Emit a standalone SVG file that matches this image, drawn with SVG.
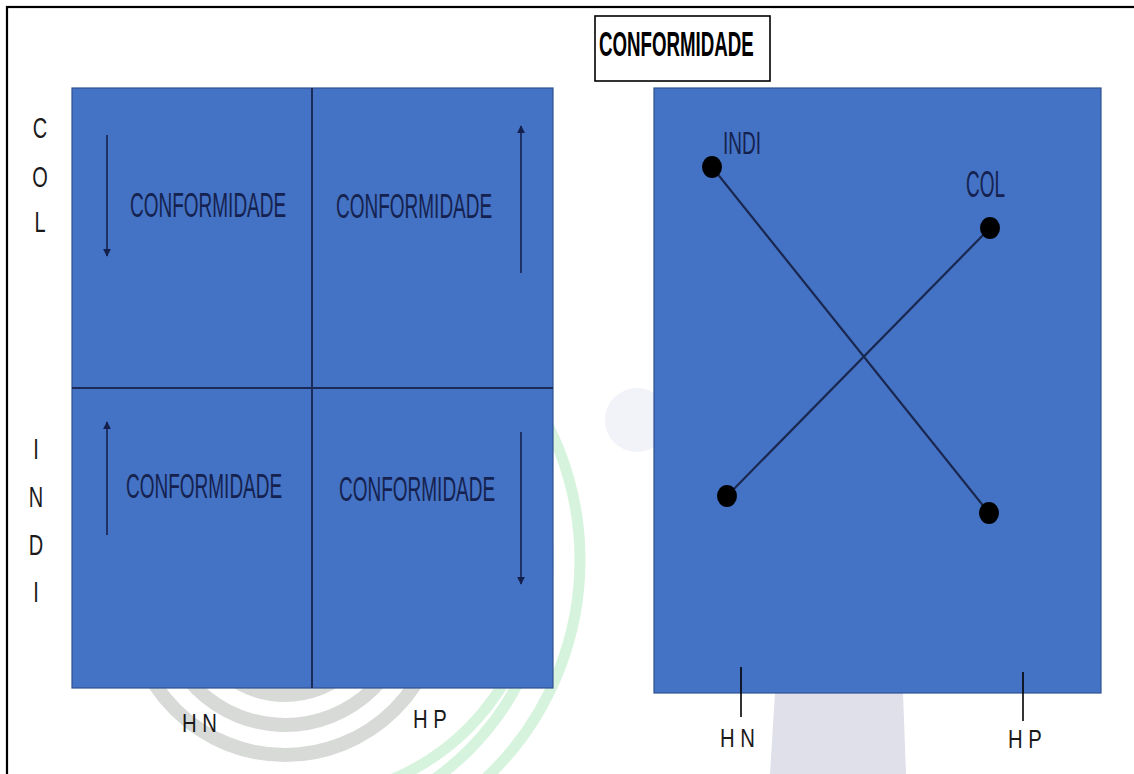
<svg xmlns="http://www.w3.org/2000/svg" width="1134" height="774" viewBox="0 0 1134 774">
<style>
.panel{fill:#4472C4;stroke:#2F528F;stroke-width:1.2}
.div{stroke:#1B2A57;stroke-width:2}
.q{font-family:"Liberation Sans",Arial,sans-serif;font-size:19px;fill:#15224F}
.ax{font-family:"Liberation Sans",Arial,sans-serif;fill:#1a1a1a}
.arr{stroke:#14214D;stroke-width:1.6;fill:none}
.con{stroke:#1a2850;stroke-width:2.2;fill:none}
.dot{fill:#000}
.wmg{fill:none;stroke:#d8dad8;stroke-width:14}
.wmv{fill:none;stroke:#d6f3dd;stroke-width:11}
</style>
<defs>
<marker id="ah" viewBox="0 0 10 10" refX="9" refY="5" markerWidth="5" markerHeight="6" markerUnits="strokeWidth" orient="auto">
<path d="M0,0 L10,5 L0,10 z" fill="#14214D"/>
</marker>
</defs>
<rect width="1134" height="774" fill="#fff"/>
<g id="watermark">
<circle class="wmg" cx="285" cy="600" r="95"/>
<circle class="wmg" cx="285" cy="600" r="125"/>
<circle class="wmg" cx="285" cy="600" r="155"/>
<path class="wmv" d="M280,260 A300,300 0 0 1 280,860"/>
<path class="wmv" d="M280,292 A268,268 0 0 1 280,828"/>
<path class="wmv" d="M300,322 A238,238 0 0 1 300,798"/>
<path d="M775,693 L903,693 L906,774 L770,774 z" fill="#dfe0ea"/>
<circle cx="637" cy="420" r="32" fill="#f2f3f9"/>
</g>
<rect x="7" y="7" width="1140" height="780" fill="none" stroke="#000" stroke-width="2.2"/>
<g id="title">
<rect x="595" y="16" width="175" height="65" fill="#fff" stroke="#000" stroke-width="1.6"/>
<text transform="translate(599,56) scale(1,1.87)" font-family="Liberation Sans,Arial,sans-serif" font-weight="bold" font-size="18.7" fill="#000">CONFORMIDADE</text>
</g>
<g id="left-matrix">
<rect class="panel" x="72" y="88" width="481" height="600"/>
<line class="div" x1="312" y1="88" x2="312" y2="688"/>
<line class="div" x1="72" y1="388" x2="553" y2="388"/>
</g>
<g id="q-top-left">
<text class="q" transform="translate(130,217) scale(1,1.84)">CONFORMIDADE</text>
<line class="arr" x1="107" y1="135" x2="107" y2="256" marker-end="url(#ah)"/>
</g>
<g id="q-top-right">
<text class="q" transform="translate(336,218) scale(1,1.84)">CONFORMIDADE</text>
<line class="arr" x1="521" y1="273" x2="521" y2="126" marker-end="url(#ah)"/>
</g>
<g id="q-bottom-left">
<text class="q" transform="translate(126,498) scale(1,1.84)">CONFORMIDADE</text>
<line class="arr" x1="107" y1="535" x2="107" y2="422" marker-end="url(#ah)"/>
</g>
<g id="q-bottom-right">
<text class="q" transform="translate(339,501) scale(1,1.84)">CONFORMIDADE</text>
<line class="arr" x1="521" y1="432" x2="521" y2="584" marker-end="url(#ah)"/>
</g>
<g id="left-axis-labels" class="ax" font-size="20" text-anchor="middle">
<text transform="translate(40,138) scale(1,1.47)">C</text>
<text transform="translate(40,187) scale(1,1.47)">O</text>
<text transform="translate(40,232) scale(1,1.47)">L</text>
<text transform="translate(36,459) scale(1,1.47)">I</text>
<text transform="translate(36,507) scale(1,1.47)">N</text>
<text transform="translate(36,555) scale(1,1.47)">D</text>
<text transform="translate(36,602) scale(1,1.47)">I</text>
</g>
<g id="bottom-labels-left" class="ax" font-size="20.3">
<text transform="translate(182,732) scale(1,1.31)">H N</text>
<text transform="translate(413,728) scale(1,1.31)">H P</text>
</g>
<g id="right-panel">
<rect class="panel" x="654" y="88" width="447" height="605"/>
<line stroke="#000" stroke-width="1.6" x1="741" y1="667" x2="741" y2="717"/>
<line stroke="#000" stroke-width="1.6" x1="1023" y1="672" x2="1023" y2="721"/>
<text class="ax" font-size="20.3" transform="translate(720,747) scale(1,1.31)">H N</text>
<text class="ax" font-size="20.3" transform="translate(1008,748) scale(1,1.31)">H P</text>
</g>
<g id="connectors">
<line class="con" x1="712" y1="167" x2="989" y2="513"/>
<line class="con" x1="990" y1="228" x2="727" y2="496"/>
</g>
<g id="node-indi">
<ellipse class="dot" cx="712" cy="167" rx="10" ry="11"/>
<text class="q" font-size="20" transform="translate(723,154) scale(1,1.68)">INDI</text>
</g>
<g id="node-col">
<ellipse class="dot" cx="990" cy="228" rx="10" ry="11"/>
<text class="q" font-size="17.5" transform="translate(966,197) scale(1,1.92)">COL</text>
</g>
<g id="node-bl">
<ellipse class="dot" cx="727" cy="496" rx="10" ry="11"/>
</g>
<g id="node-br">
<ellipse class="dot" cx="989" cy="513" rx="10" ry="11"/>
</g>
</svg>
